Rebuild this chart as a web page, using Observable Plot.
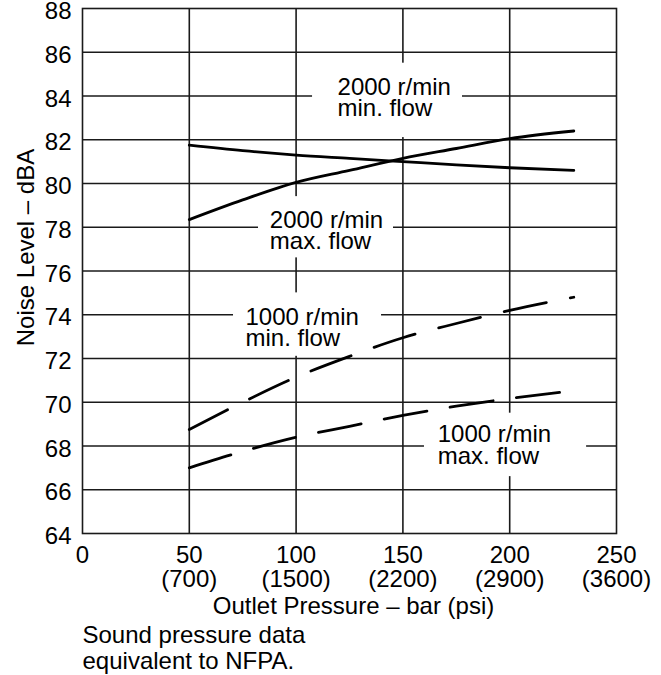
<!DOCTYPE html>
<html>
<head>
<meta charset="utf-8">
<script src="https://cdn.jsdelivr.net/npm/d3@7"></script>
<script src="https://cdn.jsdelivr.net/npm/@observablehq/plot@0.6"></script>
<style>
  body { margin: 0; background: #fff; }
  svg { display: block; }
</style>
</head>
<body>
<div id="chart"></div>
<script>
// ---- Axis ticks ----
const xTicks = [0, 50, 100, 150, 200, 250];            // bar
const psiLabels = ["", "(700)", "(1500)", "(2200)", "(2900)", "(3600)"];
const yTicks = [64, 66, 68, 70, 72, 74, 76, 78, 80, 82, 84, 86, 88];

// ---- Series (outlet pressure in bar vs noise level dBA) ----
const pressure = [50, 75, 100, 125, 150, 175, 200, 230];
const rpm2000MinFlow = [81.75, 81.5, 81.3, 81.15, 81.0, 80.85, 80.72, 80.6];
const rpm2000MaxFlow = [78.35, 79.25, 80.05, 80.6, 81.15, 81.6, 82.05, 82.4];
const rpm1000MinFlow = [68.75, 70.0, 71.15, 72.1, 72.95, 73.6, 74.2, 74.8];
const pressureLow = [50, 75, 100, 125, 150, 175, 200, 228];
const rpm1000MaxFlow = [67.0, 67.75, 68.4, 68.9, 69.4, 69.82, 70.17, 70.5];

// ---- Annotations (data coordinates) ----
const labelText = ["2000 r/min\nmin. flow", "2000 r/min\nmax. flow", "1000 r/min\nmin. flow", "1000 r/min\nmax. flow"];
const labelX = [119.4, 87.7, 76.3, 166.3];
const labelY = [83.1, 77.0, 72.55, 67.2];
const boxX1 = [107.7, 82.4, 70.7, 160.1];
const boxX2 = [177.9, 145.6, 140.0, 236.0];
const boxY1 = [82.1, 76.6, 72.1, 66.6];
const boxY2 = [85.5, 79.4, 75.0, 69.5];

const xLabel = "Outlet Pressure – bar (psi)";
const yLabel = "Noise Level – dBA";
const caption = "Sound pressure data\nequivalent to NFPA.";

// ---- Build tables ----
const solid = [
  ...pressure.map((x, i) => ({x, y: rpm2000MinFlow[i], s: "2000 min"})),
  ...pressure.map((x, i) => ({x, y: rpm2000MaxFlow[i], s: "2000 max"}))
];
const dashedUpper = pressure.map((x, i) => ({x, y: rpm1000MinFlow[i]}));
const dashedLower = pressureLow.map((x, i) => ({x, y: rpm1000MaxFlow[i]}));
const labels = labelText.map((t, i) => ({t, x: labelX[i], y: labelY[i]}));
const boxes = boxX1.map((x1, i) => ({x1, x2: boxX2[i], y1: boxY1[i], y2: boxY2[i]}));

const FONT = "'Liberation Sans', Arial, Helvetica, sans-serif";
const FS = 24;
const INK = "#1a1a1a";

const chart = Plot.plot({
  width: 661,
  height: 675,
  marginTop: 8,
  marginLeft: 82,
  marginRight: 45,
  marginBottom: 142,
  style: {fontFamily: FONT, fontSize: FS + "px", color: INK, background: "#fff"},
  x: {domain: [0, 250]},
  y: {domain: [64, 88]},
  marks: [
    Plot.gridX(xTicks.slice(1, -1), {stroke: INK, strokeOpacity: 1, strokeWidth: 1.6}),
    Plot.gridY(yTicks.slice(1, -1), {stroke: INK, strokeOpacity: 1, strokeWidth: 1.6}),
    Plot.rect(boxes, {x1: "x1", x2: "x2", y1: "y1", y2: "y2", fill: "white"}),
    Plot.frame({stroke: INK, strokeWidth: 1.6}),
    Plot.line(solid, {x: "x", y: "y", z: "s", stroke: "black", strokeWidth: 2.8, curve: "monotone-x"}),
    Plot.line(dashedUpper, {x: "x", y: "y", stroke: "black", strokeWidth: 2.8, curve: "monotone-x", strokeDasharray: "43,24.5"}),
    Plot.line(dashedLower, {x: "x", y: "y", stroke: "black", strokeWidth: 2.8, curve: "monotone-x", strokeDasharray: "43.5,23.5"}),
    Plot.text(labels, {x: "x", y: "y", text: "t", textAnchor: "start", lineAnchor: "bottom", lineHeight: 0.88, fontSize: FS, fill: "black"}),
    Plot.axisX({ticks: xTicks, tickSize: 0, tickPadding: 12, fontSize: FS, fill: "black", label: null,
      tickFormat: (d) => psiLabels[xTicks.indexOf(d)] ? `${d}\n${psiLabels[xTicks.indexOf(d)]}` : `${d}`}),
    Plot.axisY({ticks: yTicks, tickSize: 0, tickPadding: 11, fontSize: FS, fill: "black", label: null, dy: 3}),
    Plot.text([xLabel], {frameAnchor: "bottom", text: (d) => d, textAnchor: "middle", lineAnchor: "bottom", dy: 80, dx: 4, fontSize: FS, fill: "black"}),
    Plot.text([yLabel], {frameAnchor: "left", text: (d) => d, rotate: -90, textAnchor: "middle", lineAnchor: "bottom", dx: -49, dy: -23.5, fontSize: FS, fill: "black"}),
    Plot.text([caption], {frameAnchor: "bottom-left", text: (d) => d, textAnchor: "start", lineAnchor: "bottom", lineHeight: 1.08, dy: 135, fontSize: FS, fill: "black"})
  ]
});
document.getElementById("chart").appendChild(chart);
</script>
</body>
</html>
